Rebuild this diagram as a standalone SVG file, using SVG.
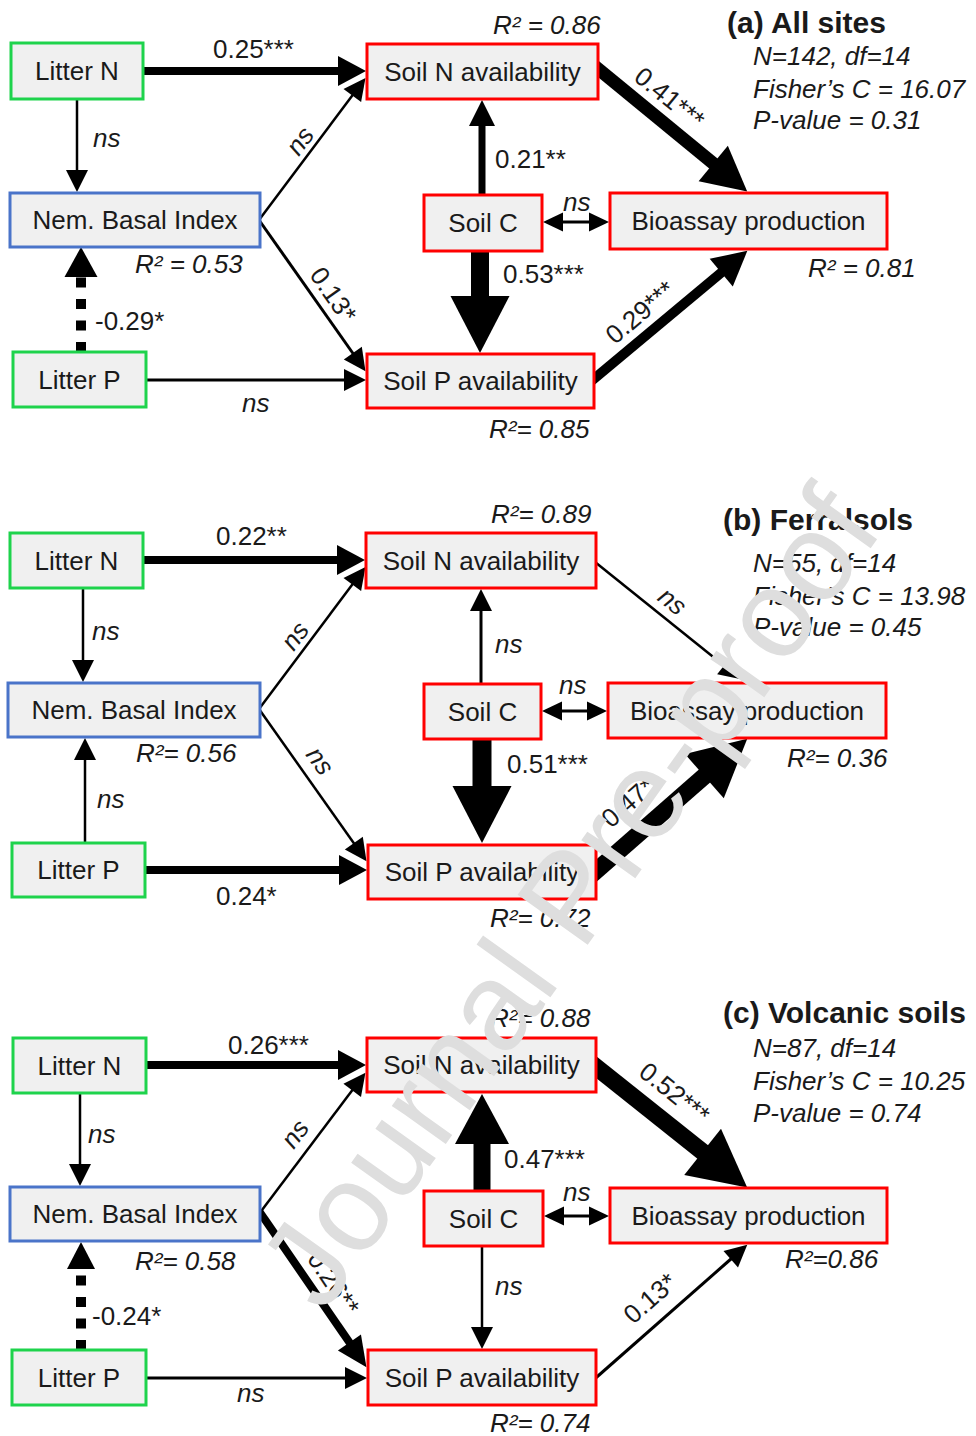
<svg xmlns="http://www.w3.org/2000/svg" width="976" height="1436" viewBox="0 0 976 1436">
<style>
.box{fill:#f0f0f0;stroke-width:3}
.g{stroke:#1ed34c}.b{stroke:#4a74c9}.r{stroke:#ff0000}
text{font-family:'Liberation Sans',Arial,sans-serif;font-size:26px;fill:#1a1a1a}
.m{text-anchor:middle}
.it{font-style:italic}
.ttl{font-weight:bold;font-size:30px}
.st{font-style:italic;font-size:26px}
.c{stroke:#000;fill:none;stroke-linecap:butt}
.wm{font-size:125px;fill:#dedede;text-anchor:middle}
</style>
<defs>
<marker id="mS" markerUnits="userSpaceOnUse" markerWidth="22" markerHeight="22" refX="1" refY="11" orient="auto" overflow="visible"><path d="M0,0L22,11L0,22z"/></marker>
<marker id="mD" markerUnits="userSpaceOnUse" markerWidth="20" markerHeight="19" refX="1" refY="9.5" orient="auto-start-reverse" overflow="visible"><path d="M0,0L20,9.5L0,19z"/></marker>
<marker id="mM" markerUnits="userSpaceOnUse" markerWidth="28" markerHeight="30" refX="1" refY="15" orient="auto" overflow="visible"><path d="M0,0L28,15L0,30z"/></marker>
<marker id="mN" markerUnits="userSpaceOnUse" markerWidth="26" markerHeight="26" refX="1" refY="13" orient="auto" overflow="visible"><path d="M0,0L26,13L0,26z"/></marker>
<marker id="mL" markerUnits="userSpaceOnUse" markerWidth="57" markerHeight="59" refX="1" refY="29.5" orient="auto" overflow="visible"><path d="M0,0L57,29.5L0,59z"/></marker>
<marker id="mL2" markerUnits="userSpaceOnUse" markerWidth="50" markerHeight="54" refX="1" refY="27" orient="auto" overflow="visible"><path d="M0,0L50,27L0,54z"/></marker>
<marker id="mDot" markerUnits="userSpaceOnUse" markerWidth="30" markerHeight="33" refX="1" refY="16.5" orient="auto" overflow="visible"><path d="M0,0L30,16.5L0,33z"/></marker>
<marker id="mDot2" markerUnits="userSpaceOnUse" markerWidth="27" markerHeight="28" refX="1" refY="14" orient="auto" overflow="visible"><path d="M0,0L27,14L0,28z"/></marker>
<marker id="mA" markerUnits="userSpaceOnUse" markerWidth="44" markerHeight="46" refX="1" refY="23" orient="auto" overflow="visible"><path d="M0,0L44,23L0,46z"/></marker>
<marker id="mB" markerUnits="userSpaceOnUse" markerWidth="34" markerHeight="36" refX="1" refY="18" orient="auto" overflow="visible"><path d="M0,0L34,18L0,36z"/></marker>
<marker id="mC" markerUnits="userSpaceOnUse" markerWidth="30" markerHeight="28" refX="1" refY="14" orient="auto" overflow="visible"><path d="M0,0L30,14L0,28z"/></marker>
</defs>
<rect width="976" height="1436" fill="#fff"/>

<g id="connectors">
<!-- panel a -->
<path class="c" d="M143,71H339" stroke-width="8" marker-end="url(#mM)"/>
<path class="c" d="M77,99V171" stroke-width="2.5" marker-end="url(#mS)"/>
<path class="c" d="M259,220L352.9,94.7" stroke-width="2.5" marker-end="url(#mS)"/>
<path class="c" d="M259,220L353.4,354" stroke-width="3" marker-end="url(#mS)"/>
<path class="c" d="M81,352V276" stroke-width="10" stroke-dasharray="10 11.5" marker-end="url(#mDot)"/>
<path class="c" d="M146,380H345" stroke-width="3" marker-end="url(#mS)"/>
<path class="c" d="M482,195V125" stroke-width="7" marker-end="url(#mN)"/>
<path class="c" d="M562,222H590" stroke-width="3" marker-start="url(#mD)" marker-end="url(#mD)"/>
<path class="c" d="M480,251V297" stroke-width="18" marker-end="url(#mL)"/>
<path class="c" d="M591,63L714,164.1" stroke-width="13" marker-end="url(#mA)"/>
<path class="c" d="M589,383L722,272" stroke-width="10" marker-end="url(#mB)"/>
<text x="213" y="58">0.25***</text>
<text class="it" x="93" y="147">ns</text>
<text class="it m" transform="translate(307,146) rotate(-53.4)">ns</text>
<text class="m" transform="translate(326,300) rotate(55.1)">0.13*</text>
<text x="95" y="330">-0.29*</text>
<text class="it" x="242" y="412">ns</text>
<text x="495" y="168">0.21**</text>
<text class="it" x="563" y="211">ns</text>
<text x="503" y="283">0.53***</text>
<text class="m" transform="translate(664,105) rotate(39)">0.41***</text>
<text class="m" transform="translate(646,319) rotate(-40.2)">0.29***</text>
<!-- panel b -->
<path class="c" d="M143,560H338" stroke-width="8" marker-end="url(#mM)"/>
<path class="c" d="M83,588V661" stroke-width="2.5" marker-end="url(#mS)"/>
<path class="c" d="M259,709L352.9,583.7" stroke-width="2.5" marker-end="url(#mS)"/>
<path class="c" d="M259,709L354.4,844" stroke-width="2.5" marker-end="url(#mS)"/>
<path class="c" d="M85,843V759" stroke-width="2.5" marker-end="url(#mS)"/>
<path class="c" d="M145,870H340" stroke-width="8" marker-end="url(#mM)"/>
<path class="c" d="M481,684V610" stroke-width="3" marker-end="url(#mS)"/>
<path class="c" d="M561,711H588" stroke-width="3" marker-start="url(#mD)" marker-end="url(#mD)"/>
<path class="c" d="M482,739V787" stroke-width="19" marker-end="url(#mL)"/>
<path class="c" d="M590,558L724.8,666.2" stroke-width="2.5" marker-end="url(#mS)"/>
<path class="c" d="M591,875.3L705.1,775.5" stroke-width="17" marker-end="url(#mL)"/>
<text x="216" y="545">0.22**</text>
<text class="it" x="92" y="640">ns</text>
<text class="it m" transform="translate(302,641) rotate(-53.4)">ns</text>
<text class="it m" transform="translate(313,766) rotate(55)">ns</text>
<text class="it" x="97" y="808">ns</text>
<text x="216" y="905">0.24*</text>
<text class="it" x="495" y="653">ns</text>
<text class="it" x="559" y="694">ns</text>
<text x="507" y="773">0.51***</text>
<text class="it m" transform="translate(667,608) rotate(38.7)">ns</text>
<text class="m" transform="translate(634,809) rotate(-41)">0.47*</text>
<!-- panel c -->
<path class="c" d="M146,1065H339" stroke-width="8" marker-end="url(#mM)"/>
<path class="c" d="M80,1093V1165" stroke-width="2.5" marker-end="url(#mS)"/>
<path class="c" d="M259,1214L352.8,1089.6" stroke-width="2.5" marker-end="url(#mS)"/>
<path class="c" d="M259,1211L350,1343.3" stroke-width="8" marker-end="url(#mC)"/>
<path class="c" d="M81,1350V1268" stroke-width="10" stroke-dasharray="10 11.5" marker-end="url(#mDot2)"/>
<path class="c" d="M146,1378H346" stroke-width="3" marker-end="url(#mS)"/>
<path class="c" d="M482,1191V1143" stroke-width="17" marker-end="url(#mL2)"/>
<path class="c" d="M563,1216H590" stroke-width="3" marker-start="url(#mD)" marker-end="url(#mD)"/>
<path class="c" d="M482,1246V1328" stroke-width="2.5" marker-end="url(#mS)"/>
<path class="c" d="M591,1063L703.4,1152.5" stroke-width="17" marker-end="url(#mL)"/>
<path class="c" d="M590,1383L731.5,1258.5" stroke-width="3" marker-end="url(#mS)"/>
<text x="228" y="1054">0.26***</text>
<text class="it" x="88" y="1143">ns</text>
<text class="it m" transform="translate(302,1139) rotate(-53.4)">ns</text>
<text class="m" transform="translate(326,1288) rotate(55.9)">0.26**</text>
<text x="92" y="1325">-0.24*</text>
<text class="it" x="237" y="1402">ns</text>
<text x="504" y="1168">0.47***</text>
<text class="it" x="563" y="1201">ns</text>
<text class="it" x="495" y="1295">ns</text>
<text class="m" transform="translate(669,1100) rotate(38.5)">0.52***</text>
<text class="m" transform="translate(656,1305) rotate(-41.4)">0.13*</text>
</g>

<!-- panel a nodes -->
<g id="a-litterN"><rect class="box g" x="11" y="43" width="132" height="56"/><text class="m" x="77" y="80">Litter N</text></g>
<g id="a-nem"><rect class="box b" x="10" y="193" width="250" height="54"/><text class="m" x="135" y="229">Nem. Basal Index</text><text class="it" x="135" y="273">R² = 0.53</text></g>
<g id="a-litterP"><rect class="box g" x="13" y="352" width="133" height="55"/><text class="m" x="79.5" y="389">Litter P</text></g>
<g id="a-soilN"><rect class="box r" x="367" y="44" width="231" height="55"/><text class="m" x="482.5" y="81">Soil N availability</text><text class="it" x="493" y="34">R² = 0.86</text></g>
<g id="a-soilC"><rect class="box r" x="424" y="195" width="118" height="56"/><text class="m" x="483" y="232">Soil C</text></g>
<g id="a-bio"><rect class="box r" x="610" y="193" width="277" height="56"/><text class="m" x="748.5" y="230">Bioassay production</text><text class="it" x="808" y="277">R² = 0.81</text></g>
<g id="a-soilP"><rect class="box r" x="367" y="354" width="227" height="54"/><text class="m" x="480.5" y="390">Soil P availability</text><text class="it" x="489" y="438">R²= 0.85</text></g>
<g id="a-title"><text class="ttl" x="727" y="33">(a) All sites</text><text class="st" x="753" y="65">N=142, df=14</text><text class="st" x="753" y="98">Fisher’s C = 16.07</text><text class="st" x="753" y="129">P-value = 0.31</text></g>

<!-- panel b nodes -->
<g id="b-litterN"><rect class="box g" x="10" y="533" width="133" height="55"/><text class="m" x="76.5" y="570">Litter N</text></g>
<g id="b-nem"><rect class="box b" x="8" y="683" width="252" height="54"/><text class="m" x="134" y="719">Nem. Basal Index</text><text class="it" x="136" y="762">R²= 0.56</text></g>
<g id="b-litterP"><rect class="box g" x="12" y="843" width="133" height="54"/><text class="m" x="78.5" y="879">Litter P</text></g>
<g id="b-soilN"><rect class="box r" x="366" y="533" width="230" height="55"/><text class="m" x="481" y="570">Soil N availability</text><text class="it" x="491" y="523">R²= 0.89</text></g>
<g id="b-soilC"><rect class="box r" x="424" y="684" width="117" height="55"/><text class="m" x="482.5" y="721">Soil C</text></g>
<g id="b-bio"><rect class="box r" x="608" y="683" width="278" height="55"/><text class="m" x="747" y="720">Bioassay production</text><text class="it" x="787" y="767">R²= 0.36</text></g>
<g id="b-soilP"><rect class="box r" x="368" y="845" width="228" height="54"/><text class="m" x="482" y="881">Soil P availability</text><text class="it" x="490" y="927">R²= 0.72</text></g>
<g id="b-title"><text class="ttl" x="723" y="530">(b) Ferralsols</text><text class="st" x="753" y="572">N=55, df=14</text><text class="st" x="753" y="605">Fisher’s C = 13.98</text><text class="st" x="753" y="636">P-value = 0.45</text></g>

<!-- panel c nodes -->
<g id="c-litterN"><rect class="box g" x="13" y="1038" width="133" height="55"/><text class="m" x="79.5" y="1075">Litter N</text></g>
<g id="c-nem"><rect class="box b" x="10" y="1187" width="250" height="54"/><text class="m" x="135" y="1223">Nem. Basal Index</text><text class="it" x="135" y="1270">R²= 0.58</text></g>
<g id="c-litterP"><rect class="box g" x="12" y="1350" width="134" height="55"/><text class="m" x="79" y="1387">Litter P</text></g>
<g id="c-soilN"><rect class="box r" x="367" y="1038" width="229" height="54"/><text class="m" x="481.5" y="1074">Soil N availability</text><text class="it" x="490" y="1027">R²= 0.88</text></g>
<g id="c-soilC"><rect class="box r" x="424" y="1191" width="119" height="55"/><text class="m" x="483.5" y="1228">Soil C</text></g>
<g id="c-bio"><rect class="box r" x="610" y="1188" width="277" height="55"/><text class="m" x="748.5" y="1225">Bioassay production</text><text class="it" x="785" y="1268">R²=0.86</text></g>
<g id="c-soilP"><rect class="box r" x="368" y="1350" width="228" height="55"/><text class="m" x="482" y="1387">Soil P availability</text><text class="it" x="490" y="1432">R²= 0.74</text></g>
<g id="c-title"><text class="ttl" x="723" y="1023">(c) Volcanic soils</text><text class="st" x="753" y="1057">N=87, df=14</text><text class="st" x="753" y="1090">Fisher’s C = 10.25</text><text class="st" x="753" y="1122">P-value = 0.74</text></g>

<g id="watermark"><text class="wm" transform="translate(604,922) rotate(-54.5)">Journal Pre-proof</text></g>
</svg>
